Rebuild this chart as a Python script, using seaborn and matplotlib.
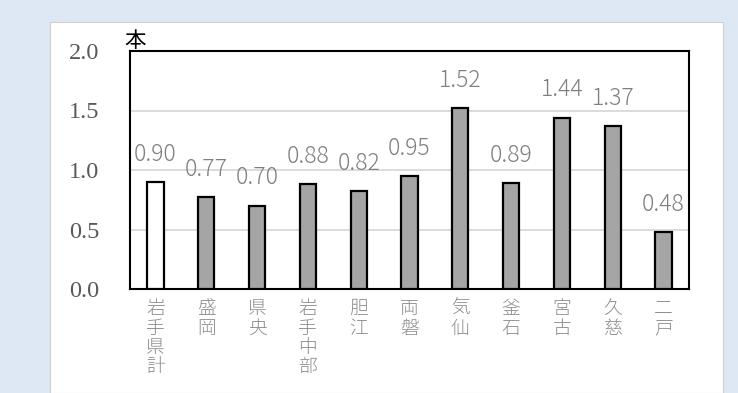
import matplotlib
matplotlib.use("Agg")
import matplotlib.pyplot as plt
import matplotlib.patches as mpatches
import seaborn as sns
import pandas as pd

# Data: number per area
areas = ["岩手県計", "盛岡", "県央", "岩手中部", "胆江", "両磐", "気仙", "釜石", "宮古", "久慈", "二戸"]
values = [0.90, 0.77, 0.70, 0.88, 0.82, 0.95, 1.52, 0.89, 1.44, 1.37, 0.48]
unit_label = "本"
y_ticks = [0.0, 0.5, 1.0, 1.5, 2.0]

sns.set_theme(style="white")
plt.rcParams["font.family"] = ["Noto Sans CJK JP", "DejaVu Sans"]

df = pd.DataFrame({"area": areas, "value": values})
colors = ["#ffffff"] + ["#a5a5a5"] * (len(areas) - 1)

fig = plt.figure(figsize=(7.38, 3.93), dpi=100, facecolor="#dde8f4")
# white panel behind the chart
fig.patches.append(mpatches.Rectangle((50 / 738, 0.0), (723 - 50) / 738, (393 - 22) / 393,
                                      transform=fig.transFigure, facecolor="white",
                                      edgecolor="#d0d0d0", lw=0.8, zorder=-10))

ax = fig.add_axes([130 / 738, 1 - 289 / 393, (689 - 130) / 738, (289 - 51) / 393])
ax.set_facecolor("white")

sns.barplot(data=df, x="area", y="value", hue="area", palette=colors, legend=False,
            width=0.32, edgecolor="black", linewidth=1.6, ax=ax, zorder=3)

ax.set_ylim(0, 2.0)
ax.set_xlim(-0.5, len(areas) - 0.5)
ax.set_yticks(y_ticks)
ax.set_yticklabels([f"{t:.1f}" for t in y_ticks], family="Liberation Serif",
                   fontsize=17.5, color="#595959")
ax.yaxis.grid(True, color="#d9d9d9", lw=1.3, zorder=0)
ax.set_axisbelow(True)
ax.tick_params(axis="y", length=0, pad=22)
ax.tick_params(axis="x", length=0, pad=8)

ax.set_xticks(range(len(areas)))
ax.set_xticklabels(["\n".join(a) for a in areas], fontsize=13.5, color="#8c8c8c",
                   va="top", linespacing=1.1, fontweight="light")
ax.set_xlabel("")
ax.set_ylabel("")

for s in ax.spines.values():
    s.set_color("black")
    s.set_linewidth(1.5)

for i, v in enumerate(values):
    ax.annotate(f"{v:.2f}", (i, v), xytext=(0, 11), textcoords="offset points",
                ha="center", va="bottom", fontsize=16.5, color="#7f7f7f",
                fontweight="light")

ax.annotate(unit_label, (0, 1), xycoords="axes fraction", xytext=(-4, -1),
            textcoords="offset points", ha="left", va="bottom",
            fontsize=15.5, color="black")

fig.savefig("out.png", dpi=100, facecolor=fig.get_facecolor())
